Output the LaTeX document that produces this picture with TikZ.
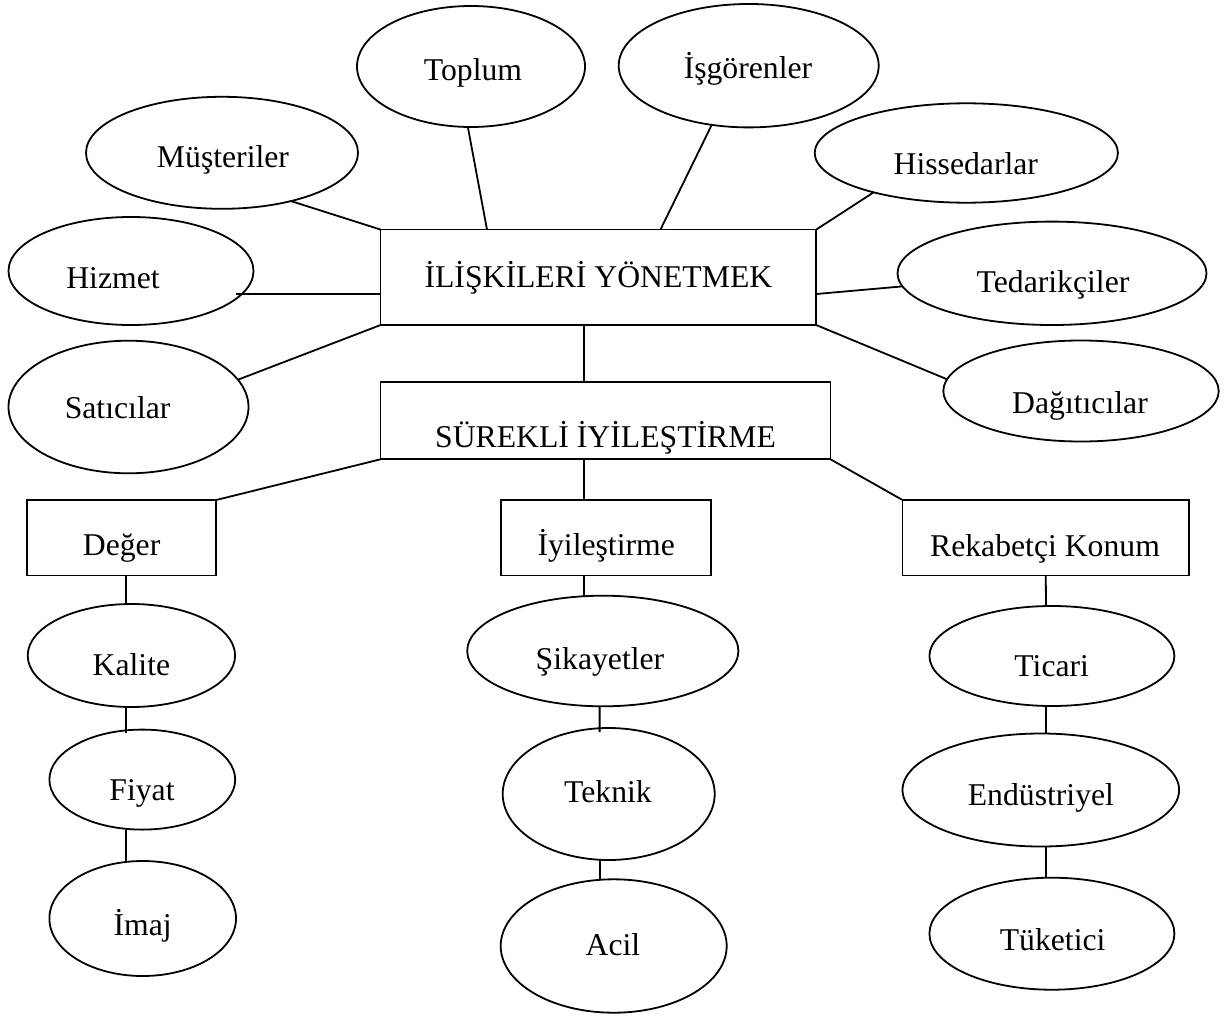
\documentclass[tikz,border=0pt]{standalone}
\usepackage{fontspec}
\setmainfont{Liberation Serif}
\usetikzlibrary{shapes.geometric}
\begin{document}
\begin{tikzpicture}[x=1pt,y=-1pt,line width=1.8pt,
  font=\fontsize{31.7}{38}\selectfont,
  ell/.style={draw,ellipse,inner sep=0pt,outer sep=0pt},
  box/.style={draw,rectangle,inner sep=0pt,outer sep=0pt},
  lbl/.style={inner sep=0pt,outer sep=0pt,text height=21pt,text depth=0pt},
  con/.style={draw,line cap=butt}]
\useasboundingbox (0,0) rectangle (1230,1019);

% central boxes
\node[box,minimum width=435.8pt,minimum height=95.5pt,label={[lbl,yshift=0.8pt]center:İLİŞKİLERİ YÖNETMEK}] (b1) at (598.4,277.3) {};
\node[box,minimum width=450pt,minimum height=77.6pt,label={[lbl,yshift=-16.5pt]center:SÜREKLİ İYİLEŞTİRME}] (b2) at (605.5,420.5) {};

% upper ellipses
\node[ell,minimum width=228pt,minimum height=121pt,label={[lbl,xshift=2pt,yshift=-3.2pt]center:Toplum}] (top) at (471,66.5) {};
\node[ell,minimum width=260pt,minimum height=123.4pt,label={[lbl,xshift=-0.7pt,yshift=-2.6pt]center:İşgörenler}] (isg) at (748.7,65.7) {};
\node[ell,minimum width=272pt,minimum height=112pt,label={[lbl,xshift=1pt,yshift=-3.9pt]center:Müşteriler}] (mus) at (222,152.8) {};
\node[ell,minimum width=303.2pt,minimum height=99.4pt,label={[lbl,xshift=-0.5pt,yshift=-11.5pt]center:Hissedarlar}] (his) at (966.3,153) {};
\node[ell,minimum width=245pt,minimum height=108pt,label={[lbl,xshift=-18pt,yshift=-7.3pt]center:Hizmet}] (hiz) at (131,271) {};
\node[ell,minimum width=309pt,minimum height=103.4pt,label={[lbl,xshift=1pt,yshift=-8.4pt]center:Tedarikçiler}] (ted) at (1052,273.3) {};
\node[ell,minimum width=240pt,minimum height=132.6pt,label={[lbl,xshift=-10.9pt,yshift=-0.7pt]center:Satıcılar}] (sat) at (128.5,407) {};
\node[ell,minimum width=275.4pt,minimum height=101pt,label={[lbl,xshift=-1pt,yshift=-12pt]center:Dağıtıcılar}] (dag) at (1081,391) {};

% lower boxes
\node[box,minimum width=189.2pt,minimum height=75.5pt,label={[lbl,yshift=-7.25pt]center:Değer}] (deg) at (121.6,537.75) {};
\node[box,minimum width=210pt,minimum height=75.5pt,label={[lbl,yshift=-7.25pt]center:İyileştirme}] (iyi) at (606.2,537.75) {};
\node[box,minimum width=286.5pt,minimum height=75.5pt,label={[lbl,xshift=-0.75pt,yshift=-7.75pt]center:Rekabetçi Konum}] (rek) at (1045.75,537.75) {};

% lower ellipses
\node[ell,minimum width=207.4pt,minimum height=103pt,label={[lbl,yshift=-9.5pt]center:Kalite}] (kal) at (131.4,655.5) {};
\node[ell,minimum width=185.8pt,minimum height=100pt,label={[lbl,xshift=-0.3pt,yshift=-10.4pt]center:Fiyat}] (fiy) at (142.3,779.6) {};
\node[ell,minimum width=186.6pt,minimum height=115pt,label={[lbl,yshift=-6.5pt]center:İmaj}] (ima) at (142.7,918.5) {};
\node[ell,minimum width=271.2pt,minimum height=110.6pt,label={[lbl,xshift=-2.8pt,yshift=-7.5pt]center:Şikayetler}] (sik) at (602.8,651) {};
\node[ell,minimum width=212pt,minimum height=132pt,label={[lbl,xshift=-0.7pt,yshift=2pt]center:Teknik}] (tek) at (608.7,794) {};
\node[ell,minimum width=226pt,minimum height=133.4pt,label={[lbl,xshift=-0.7pt,yshift=1.3pt]center:Acil}] (aci) at (613.7,946) {};
\node[ell,minimum width=245pt,minimum height=100pt,label={[lbl,xshift=-0.2pt,yshift=-10pt]center:Ticari}] (tic) at (1051.9,656) {};
\node[ell,minimum width=276.6pt,minimum height=113pt,label={[lbl,xshift=0.1pt,yshift=-4.5pt]center:Endüstriyel}] (end) at (1040.8,790) {};
\node[ell,minimum width=245pt,minimum height=112pt,label={[lbl,xshift=0.7pt,yshift=-5.8pt]center:Tüketici}] (tuk) at (1051.9,933.7) {};

\coordinate (hzend) at (236.4,294);

% connectors of the upper hub
\draw[con] (b1.north west) -- (mus.-35);
\draw[con] ([xshift=106.5pt]b1.north west) -- (top.-93);
\draw[con] ([xshift=280pt]b1.north west) -- (isg.-122);
\draw[con] (b1.north east) -- (his.-157);
\draw[con] ([yshift=-16.7pt]b1.west) -- (hzend);
\draw[con] ([yshift=-16.7pt]b1.east) -- (ted.-175);
\draw[con] (b1.south west) -- (sat.14);
\draw[con] (b1.south east) -- (dag.175);
\draw[con] ([xshift=-14.2pt]b1.south) -- ([xshift=-21.3pt]b2.north);

% connectors to the lower boxes
\draw[con] (b2.south west) -- (deg.north east);
\draw[con] ([xshift=-21.3pt]b2.south) -- ([xshift=-22pt]iyi.north);
\draw[con] (b2.south east) -- (rek.north west);

% left column
\draw[con] ([xshift=4.4pt]deg.south) -- ([xshift=-5.4pt]kal.north);
\draw[con] ([xshift=-5.4pt]kal.south) -- ([xshift=-16.3pt,yshift=-3pt]fiy.north);
\draw[con] ([xshift=-16.3pt]fiy.south) -- ([xshift=-16.7pt]ima.north);

% middle column
\draw[con] ([xshift=-22pt]iyi.south) -- ([xshift=-18.6pt]sik.north);
\draw[con] ([xshift=-3.2pt]sik.south) -- ([xshift=-9.1pt,yshift=-4pt]tek.north);
\draw[con] ([xshift=-9.1pt]tek.south) -- ([xshift=-14.1pt]aci.north);

% right column
\draw[con] (rek.south) -- ([xshift=-5.9pt]tic.north);
\draw[con] ([xshift=-5.9pt]tic.south) -- ([xshift=5.2pt]end.north);
\draw[con] ([xshift=5.2pt]end.south) -- ([xshift=-5.9pt]tuk.north);
\end{tikzpicture}
\end{document}
